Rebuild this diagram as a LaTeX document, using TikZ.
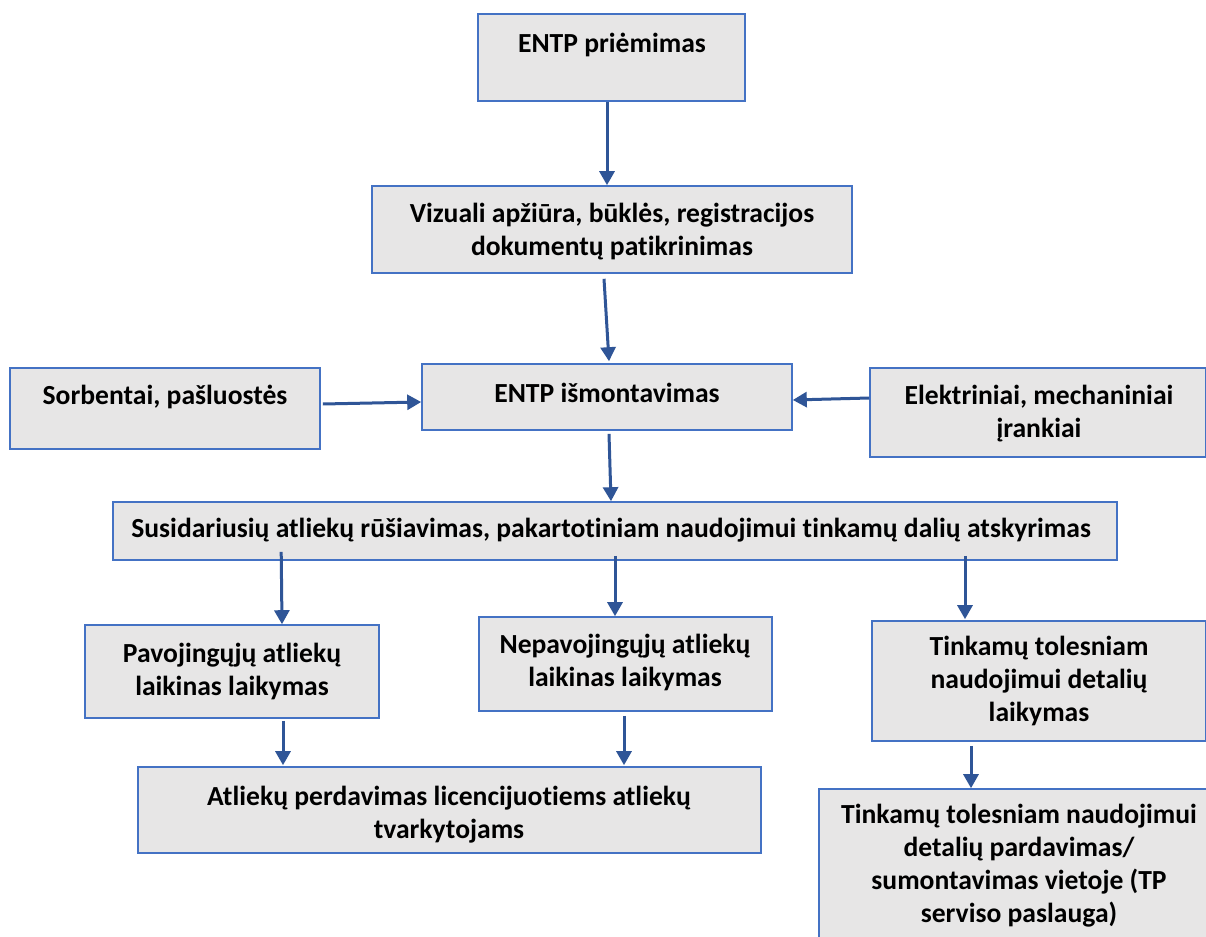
\documentclass[tikz,border=0pt]{standalone}
\usepackage{fontspec}
\setmainfont[Ligatures={NoCommon}]{Carlito}
\usetikzlibrary{calc,arrows.meta}
\definecolor{boxfill}{HTML}{E7E6E6}
\definecolor{boxline}{HTML}{4472C4}
\definecolor{arrowc}{HTML}{2F5597}
\tikzset{
  box/.style={draw=boxline, fill=boxfill, line width=0.8pt, inner sep=0pt},
  txt/.style={font=\bfseries\fontsize{13.8}{16.5}\selectfont, align=center, inner sep=0pt, text=black},
  arr/.style={draw=arrowc, line width=1.5pt, -{Triangle[width=7.5pt,length=7pt]}}
}
\newcommand{\bx}[5]{% name, x1, y1, x2, y2
  \node[box, minimum width={(#4-#2)*0.5pt}, minimum height={(#5-#3)*0.5pt}] (#1) at ({(#2+#4)/2},{(#3+#5)/2}) {};}
\begin{document}
\begin{tikzpicture}[x=0.5pt,y=-0.5pt]
\useasboundingbox (0,0) rectangle (1206,937);
\clip (0,0) rectangle (1206,937);
\fill[white] (0,0) rectangle (1206,937);
% boxes
\bx{n1}{478}{14}{745}{101}
\bx{n2}{372}{186}{852}{273}
\bx{n3}{10}{368}{320}{449}
\bx{n4}{422}{364}{792}{430}
\bx{n5}{870}{368}{1206}{457}
\bx{n6}{113}{502}{1117}{560}
\bx{n7}{85}{625}{379}{718}
\bx{n8}{479}{617}{772}{711}
\bx{n9}{872}{621}{1206}{741}
\bx{n10}{138}{767}{761}{853}
\bx{n11}{819}{789}{1219}{945}
% texts
\node[txt] (t1) at (612,45) {ENTP priėmimas};
\node[txt] (t2) at (612,232) {Vizuali apžiūra, būklės, registracijos\\dokumentų patikrinimas};
\node[txt] (t3) at (165,397) {Sorbentai, pašluostės};
\node[txt] (t4) at (607,393) {ENTP išmontavimas};
\node[txt] (t5) at (1039,414) {Elektriniai, mechaniniai\\įrankiai};
\node[txt] (t6) at (611,530) {Susidariusių atliekų rūšiavimas, pakartotiniam naudojimui tinkamų dalių atskyrimas};
\node[txt] (t7) at (232,671) {Pavojingųjų atliekų\\laikinas laikymas};
\node[txt] (t8) at (625,662) {Nepavojingųjų atliekų\\laikinas laikymas};
\node[txt] (t9) at (1039,681) {Tinkamų tolesniam\\naudojimui detalių\\laikymas};
\node[txt] (t10) at (449,815) {Atliekų perdavimas licencijuotiems atliekų\\tvarkytojams};
\node[txt] (t11) at (1019,866) {Tinkamų tolesniam naudojimui\\detalių pardavimas/\\sumontavimas vietoje (TP\\serviso paslauga)};
% arrows
\draw[arr] ($(n1.south)+(-4.5,0)$) -- ($(n2.north)+(-5,0)$);
\draw[arr] ($(n2.south)+(-8,5)$) -- ($(n4.north)+(2,-2)$);
\draw[arr] ($(n3.east)+(2,-4.5)$) -- ($(n4.west)+(0,5)$);
\draw[arr] ($(n5.west)+(0,-14.5)$) -- ($(n4.east)+(0,3)$);
\draw[arr] ($(n4.south)+(2,3)$) -- ($(n6.north)+(-4,0)$);
\draw[arr] ($(n6.south west)+(169,-9)$) -- ($(n7.north)+(50,0)$);
\draw[arr] ($(n6.south)+(0,-5)$) -- ($(n8.north)+(-10.5,0)$);
\draw[arr] ($(n6.south)+(350,-5)$) -- ($(n9.north)+(-74,-1)$);
\draw[arr] ($(n7.south)+(51,2)$) -- ($(n10.north)+(-166.5,-1)$);
\draw[arr] ($(n8.south)+(-1.5,4)$) -- ($(n10.north)+(174.5,-1)$);
\draw[arr] ($(n9.south)+(-68,4)$) -- ($(n11.north)+(-48,0)$);
\end{tikzpicture}
\end{document}
